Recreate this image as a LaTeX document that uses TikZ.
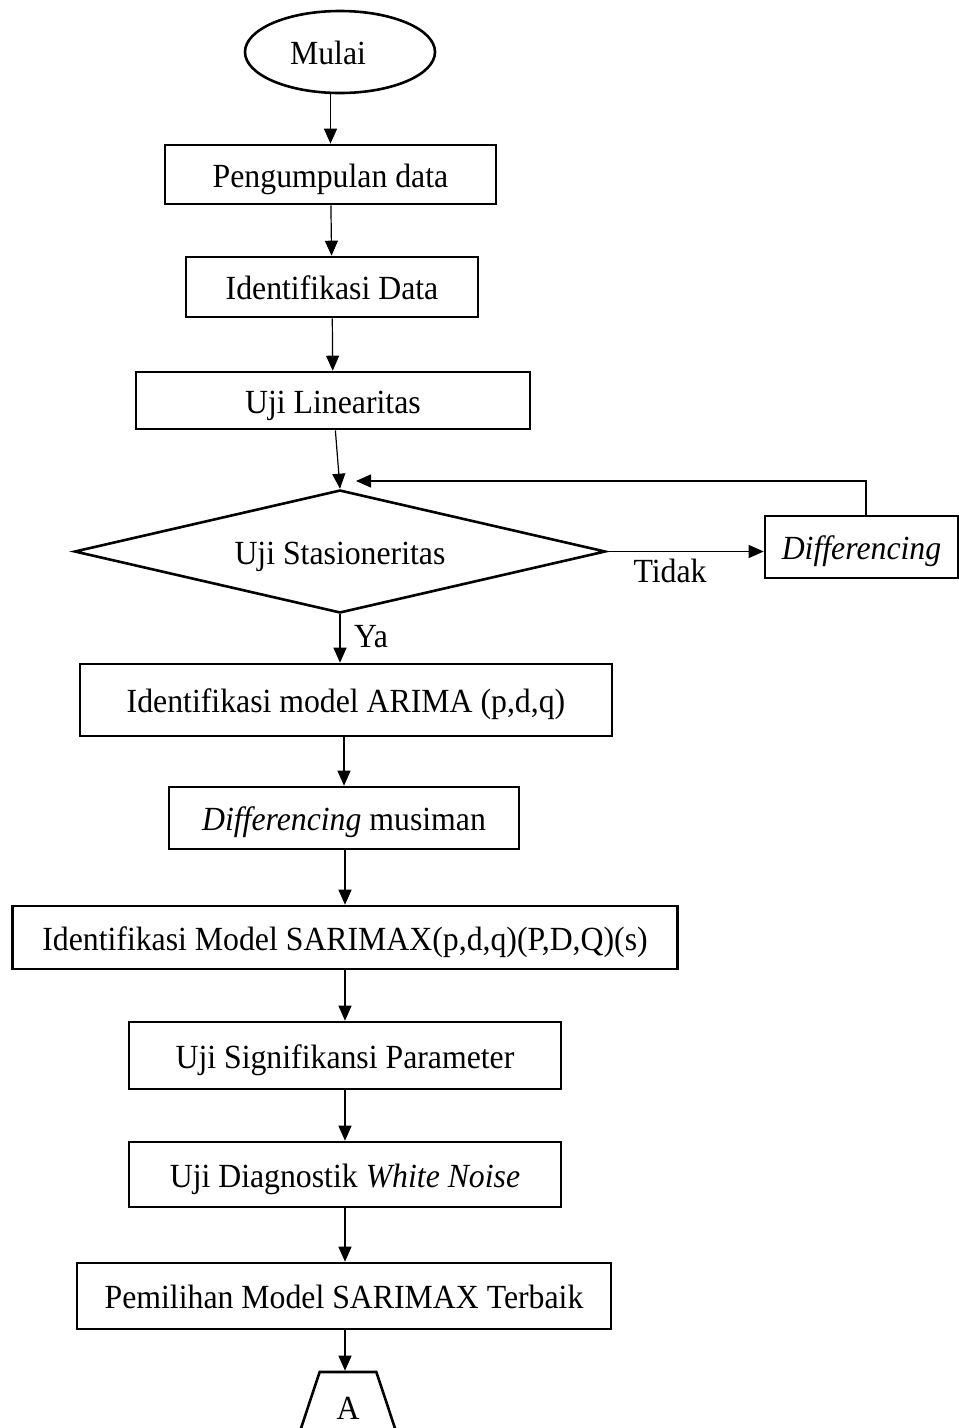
\documentclass[tikz,border=0pt]{standalone}
\usepackage{fontspec}
\setmainfont{Liberation Serif}[FakeStretch=0.94]
\usetikzlibrary{shapes.geometric,arrows.meta}
\tikzset{
  box/.style={draw, line width=2.6pt, inner sep=0pt, align=center, text height=30pt, text depth=5pt},
  conn/.style={line width=1.2pt, -{Triangle[length=15pt,width=13pt]}},
  lbl/.style={inner sep=0pt}
}
\begin{document}
\begin{tikzpicture}[x=1pt,y=-1pt,font=\fontsize{33.8}{40}\selectfont]
\useasboundingbox (0,0) rectangle (959,1428);
\node[box, ellipse, minimum width=190pt, minimum height=82pt] (start) at (340,52) {Mulai\hspace{24pt}};
\node[box, minimum width=331pt, minimum height=59pt] (b1) at (330.5,174.5) {Pengumpulan data};
\node[box, minimum width=292pt, minimum height=60pt] (b2) at (332,287) {Identifikasi Data};
\node[box, minimum width=394pt, minimum height=57pt] (b3) at (333,400.5) {Uji Linearitas};
\node[box, diamond, aspect=4.3, minimum width=531pt, minimum height=123pt] (dia) at (340,551.5) {Uji Stasioneritas};
\node[box, minimum width=193pt, minimum height=62pt] (diff) at (861.5,547) {\itshape Differencing};
\node[box, minimum width=532pt, minimum height=72pt] (b4) at (346,700) {Identifikasi model ARIMA (p,d,q)};
\node[box, minimum width=350pt, minimum height=62pt] (b5) at (344,818) {\textit{Differencing} musiman};
\node[box, minimum width=665pt, minimum height=63pt] (b6) at (345,937.5) {Identifikasi Model SARIMAX(p,d,q)(P,D,Q)(s)};
\node[box, minimum width=432pt, minimum height=67pt] (b7) at (345,1055.5) {Uji Signifikansi Parameter};
\node[box, minimum width=432pt, minimum height=65pt] (b8) at (345,1174.5) {Uji Diagnostik \textit{White Noise}};
\node[box, minimum width=534pt, minimum height=66pt] (b9) at (344,1296) {Pemilihan Model SARIMAX Terbaik};
\node[box, trapezium, trapezium left angle=75, trapezium right angle=75, trapezium stretches=true, minimum width=103.5pt, minimum height=70pt] (A) at (348,1407) {A};
\node[lbl] (ya) at (371,637) {Ya};
\node[lbl] (tidak) at (670,571) {Tidak};
\coordinate (fb) at (356,481);
\draw[conn] (start.south -| b1.north) -- (b1.north);
\draw[conn] (b1) -- (b2);
\draw[conn] (b2) -- (b3);
\draw[conn] (b3) -- (dia.north);
\draw[conn] (dia.south) -- (dia.south |- b4.north);
\draw[conn] (b4.south -| b5.north) -- (b5.north);
\draw[conn] (b5.south -| b6.north) -- (b6.north);
\draw[conn] (b6) -- (b7);
\draw[conn] (b7) -- (b8);
\draw[conn] (b8) -- (b8 |- b9.north);
\draw[conn] (b9.south -| A.north) ++(-3,0) -- ([xshift=-3pt]A.north);
\draw[conn] (dia.east) -- (dia.east -| diff.west);
\draw[conn] ([xshift=4.5pt]diff.north) |- (fb);
\end{tikzpicture}
\end{document}
